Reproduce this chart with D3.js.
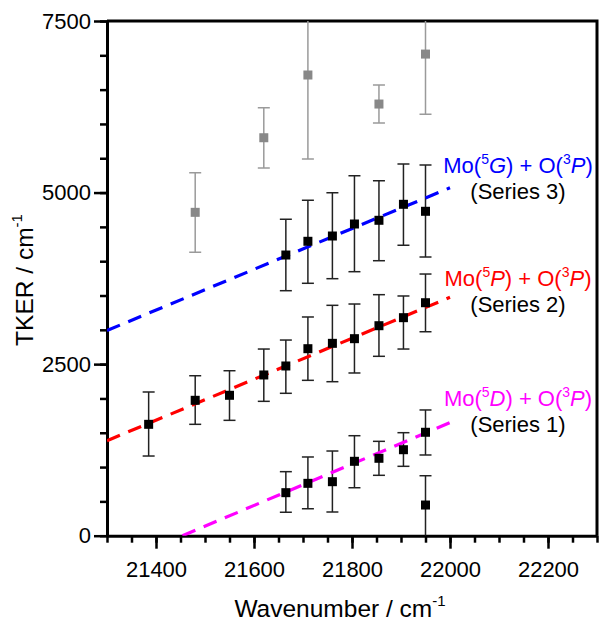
<!DOCTYPE html>
<html>
<head>
<meta charset="utf-8">
<script src="https://cdn.jsdelivr.net/npm/d3@7"></script>
<style>
body { margin: 0; background: #fff; }
svg { display: block; font-family: Arial, "Liberation Sans", sans-serif; }
</style>
</head>
<body>
<svg id="chart"></svg>
<script>
var width  = 599;
var height = 623;
var plot   = {left: 107, right: 597, top: 21, bottom: 535.7};

// Series 1: Mo(5D) + O(3P)
var s1X  = [21665, 21710, 21760, 21805, 21855, 21905, 21950, 21950];
var s1Y  = [627, 763, 787, 1084, 1128, 1253, 1507, 447];
var s1Hi = [933, 1147, 1234, 1457, 1375, 1501, 1832, 874];
var s1Lo = [341, 393, 345, 699, 880, 1011, 1176, 0];

// Series 2: Mo(5P) + O(3P)
var s2X  = [21385, 21480, 21550, 21620, 21665, 21710, 21760, 21805, 21855, 21905, 21950];
var s2Y  = [1623, 1973, 2046, 2342, 2473, 2725, 2803, 2871, 3060, 3177, 3395];
var s2Hi = [2094, 2331, 2404, 2720, 2851, 3187, 3357, 3376, 3512, 3493, 3813];
var s2Lo = [1161, 1623, 1681, 1958, 2075, 2264, 2244, 2371, 2614, 2720, 2972];

// Series 3: Mo(5G) + O(3P)
var s3X  = [21665, 21710, 21760, 21805, 21855, 21905, 21950];
var s3Y  = [4090, 4290, 4367, 4542, 4596, 4829, 4727];
var s3Hi = [4610, 4889, 4998, 5246, 5173, 5416, 5401];
var s3Lo = [3570, 3678, 3745, 3847, 4007, 4231, 4061];

// unassigned points (grey)
var grayX  = [21480, 21620, 21710, 21855, 21950];
var grayY  = [4712, 5799, 6713, 6290, 7018];
var grayHi = [5289, 6236, 7940, 6567, 7900];
var grayLo = [4129, 5357, 5488, 6013, 6140];

// dashed linear fits (end points)
var fit1X = [21454, 22000], fit1Y = [0, 1647];
var fit2X = [21300, 22000], fit2Y = [1384, 3474];
var fit3X = [21300, 22000], fit3Y = [2990, 5070];

var xMajor = [21400, 21600, 21800, 22000, 22200];
var xMinor = d3.range(21300, 22301, 50);
var yMajor = [0, 2500, 5000, 7500];
var yMinor = d3.range(0, 7501, 500);

var svg = d3.select('#chart')
        .attr('width', width)
        .attr('height', height);

var xScale = d3.scaleLinear()
                    .domain([21300, 22300])
                    .range([plot.left, plot.right]);

var yScale = d3.scaleLinear()
                    .domain([0, 7500])
                    .range([plot.bottom, plot.top]);

svg.append('clipPath')
        .attr('id', 'clip')
    .append('rect')
        .attr('x', plot.left)
        .attr('y', plot.top)
        .attr('width', plot.right - plot.left)
        .attr('height', plot.bottom - plot.top);

// frame top & right
svg.append('path')
        .attr('d', 'M' + plot.left + ',' + plot.top + 'H' + plot.right + 'V' + plot.bottom)
        .attr('fill', 'none')
        .attr('stroke', '#000')
        .attr('stroke-width', 3);

// axes
var xMinorAxis = d3.axisBottom(xScale).tickValues(xMinor).tickSize(7).tickFormat('');
var xAxis = d3.axisBottom(xScale).tickValues(xMajor).tickSize(13).tickSizeOuter(0)
                    .tickPadding(13).tickFormat(d3.format('d'));
var yMinorAxis = d3.axisLeft(yScale).tickValues(yMinor).tickSize(7).tickFormat('');
var yAxis = d3.axisLeft(yScale).tickValues(yMajor).tickSize(13).tickSizeOuter(0)
                    .tickPadding(3).tickFormat(d3.format('d'));

function styleAxis(g) {
    g.selectAll('line').attr('stroke', '#000').attr('stroke-width', 2.5);
    g.select('.domain').attr('stroke', '#000').attr('stroke-width', 3);
    g.selectAll('text').attr('fill', '#000').attr('font-size', 22)
        .attr('font-family', 'Arial, "Liberation Sans", sans-serif');
}

svg.append('g')
        .attr('transform', 'translate(0,' + plot.bottom + ')')
        .call(xMinorAxis)
        .call(function(g) { g.select('.domain').remove(); })
        .call(styleAxis);
svg.append('g')
        .attr('transform', 'translate(0,' + plot.bottom + ')')
        .call(xAxis)
        .call(styleAxis);
svg.append('g')
        .attr('transform', 'translate(' + plot.left + ',0)')
        .call(yMinorAxis)
        .call(function(g) { g.select('.domain').remove(); })
        .call(styleAxis);
svg.append('g')
        .attr('transform', 'translate(' + plot.left + ',0)')
        .call(yAxis)
        .call(styleAxis);

var area = svg.append('g').attr('clip-path', 'url(#clip)');

function rows(xs, ys, hi, lo) {
    return xs.map(function(x, i) { return {x: x, y: ys[i], hi: hi[i], lo: lo[i]}; });
}

function errorBars(data, color) {
    var g = area.append('g')
            .attr('stroke', color)
            .attr('stroke-width', 1.5)
            .attr('fill', 'none');
    g.selectAll('line.v')
        .data(data)
        .enter()
        .append('line')
            .attr('class', 'v')
            .attr('x1', d => xScale(d.x))
            .attr('x2', d => xScale(d.x))
            .attr('y1', d => yScale(d.hi))
            .attr('y2', d => yScale(d.lo));
    ['hi', 'lo'].forEach(function(k) {
        g.selectAll('line.' + k)
            .data(data.filter(d => d[k] > 0))
            .enter()
            .append('line')
                .attr('class', k)
                .attr('x1', d => xScale(d.x) - 6)
                .attr('x2', d => xScale(d.x) + 6)
                .attr('y1', d => yScale(d[k]))
                .attr('y2', d => yScale(d[k]));
    });
}

function markers(data, color) {
    area.append('g')
        .selectAll('rect')
        .data(data)
        .enter()
        .append('rect')
            .attr('x', d => xScale(d.x) - 4.5)
            .attr('y', d => yScale(d.y) - 4.5)
            .attr('width', 9)
            .attr('height', 9)
            .attr('fill', color);
}

function fitLine(xs, ys, color) {
    area.append('path')
        .datum(xs.map((x, i) => [x, ys[i]]))
        .attr('d', d3.line().x(d => xScale(d[0])).y(d => yScale(d[1])))
        .attr('fill', 'none')
        .attr('stroke', color)
        .attr('stroke-width', 3.2)
        .attr('stroke-dasharray', '14,9');
}

var d1 = rows(s1X, s1Y, s1Hi, s1Lo);
var d2 = rows(s2X, s2Y, s2Hi, s2Lo);
var d3s = rows(s3X, s3Y, s3Hi, s3Lo);
var dg = rows(grayX, grayY, grayHi, grayLo);

errorBars(dg, '#9a9a9a');
errorBars(d1, '#222');
errorBars(d2, '#222');
errorBars(d3s, '#222');

fitLine(fit1X, fit1Y, '#ff00ff');
fitLine(fit2X, fit2Y, '#ff0000');
fitLine(fit3X, fit3Y, '#0000ff');

markers(dg, '#888');
markers(d1, '#000');
markers(d2, '#000');
markers(d3s, '#000');

// series labels
function stateLabel(x, y, L, color, name) {
    var t = svg.append('text')
            .attr('x', x)
            .attr('y', y)
            .attr('text-anchor', 'middle')
            .attr('font-size', 22)
            .attr('fill', color);
    t.append('tspan').text('Mo(');
    t.append('tspan').attr('font-size', 14).attr('dy', -9).text('5');
    t.append('tspan').attr('font-style', 'italic').attr('dy', 9).text(L);
    t.append('tspan').text(') + O(');
    t.append('tspan').attr('font-size', 14).attr('dy', -9).text('3');
    t.append('tspan').attr('font-style', 'italic').attr('dy', 9).text('P');
    t.append('tspan').text(')');
    svg.append('text')
            .attr('x', x)
            .attr('y', y + 26)
            .attr('text-anchor', 'middle')
            .attr('font-size', 22)
            .attr('fill', '#000')
            .text(name);
}

stateLabel(518, 173, 'G', '#0000ff', '(Series 3)');
stateLabel(518, 286, 'P', '#ff0000', '(Series 2)');
stateLabel(518, 406, 'D', '#ff00ff', '(Series 1)');

// axis titles
var xt = svg.append('text')
        .attr('x', 340)
        .attr('y', 617)
        .attr('text-anchor', 'middle')
        .attr('font-size', 24.5)
        .text('Wavenumber / cm');
xt.append('tspan').attr('font-size', 15).attr('dy', -11).text('-1');

var yt = svg.append('text')
        .attr('transform', 'translate(33,280) rotate(-90)')
        .attr('text-anchor', 'middle')
        .attr('font-size', 24.5)
        .text('TKER / cm');
yt.append('tspan').attr('font-size', 15).attr('dy', -11).text('-1');
</script>
</body>
</html>
